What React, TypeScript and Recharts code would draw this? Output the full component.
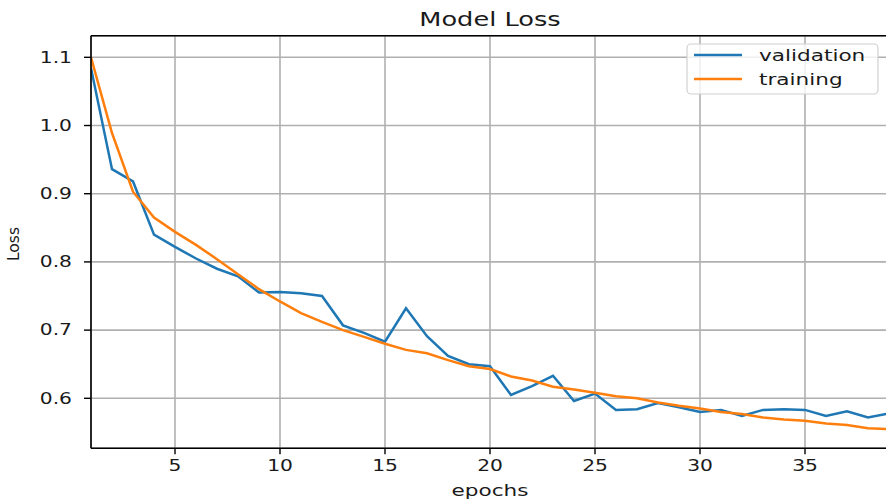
import React from 'react';
import { LineChart, Line, XAxis, YAxis, CartesianGrid, ReferenceLine } from 'recharts';

// epochs on the x axis
const epochs = [
  1, 2, 3, 4, 5, 6, 7, 8, 9, 10, 11, 12, 13, 14, 15, 16, 17, 18, 19, 20,
  21, 22, 23, 24, 25, 26, 27, 28, 29, 30, 31, 32, 33, 34, 35, 36, 37, 38, 39,
];

const validationLoss = [
  1.084, 0.936, 0.918, 0.840, 0.822, 0.805, 0.790, 0.779, 0.755, 0.756,
  0.754, 0.750, 0.707, 0.696, 0.683, 0.732, 0.691, 0.662, 0.650, 0.647,
  0.605, 0.618, 0.633, 0.596, 0.607, 0.583, 0.584, 0.593, 0.587, 0.580,
  0.583, 0.574, 0.583, 0.584, 0.583, 0.574, 0.581, 0.572, 0.578,
];

const trainingLoss = [
  1.100, 0.989, 0.903, 0.865, 0.844, 0.825, 0.804, 0.782, 0.760, 0.742,
  0.725, 0.712, 0.700, 0.690, 0.680, 0.671, 0.666, 0.656, 0.647, 0.643,
  0.632, 0.626, 0.617, 0.613, 0.608, 0.603, 0.600, 0.594, 0.589, 0.585,
  0.580, 0.577, 0.572, 0.569, 0.567, 0.563, 0.561, 0.556, 0.555,
];

const xTicks = [5, 10, 15, 20, 25, 30, 35];
const yTicks = [0.6, 0.7, 0.8, 0.9, 1.0, 1.1];
const X_DOMAIN: [number, number] = [1, 39];
const Y_DOMAIN: [number, number] = [0.5267, 1.1317];

const series = [
  { key: 'validation', label: 'validation', color: '#1f77b4' },
  { key: 'training', label: 'training', color: '#ff7f0e' },
];

const FONT = '"DejaVu Sans", sans-serif';
const TEXT = '#1a1a1a';
// the picture's text is stretched sideways
const SX = 1.35;

const data = epochs.map((e, i) => ({
  epoch: e,
  validation: validationLoss[i],
  training: trainingLoss[i],
}));

const XTick = ({ x, y, payload }: any) => (
  <text
    transform={`translate(${x},${y}) scale(${SX},1)`}
    textAnchor="middle"
    dy="0.71em"
    fontSize={15}
    fontFamily={FONT}
    fill={TEXT}
  >
    {payload.value}
  </text>
);

const YTick = ({ x, y, payload }: any) => (
  <text
    transform={`translate(${x},${y}) scale(${SX},1)`}
    textAnchor="end"
    dy="0.355em"
    fontSize={15}
    fontFamily={FONT}
    fill={TEXT}
  >
    {Number(payload.value).toFixed(1)}
  </text>
);

// title, axis labels
const Labels = () => (
  <g fontFamily={FONT} fill={TEXT}>
    <text transform={`translate(490,26) scale(${SX},1)`} textAnchor="middle" fontSize={19}>
      Model Loss
    </text>
    <text transform={`translate(490,496) scale(${SX},1)`} textAnchor="middle" fontSize={16}>
      epochs
    </text>
    <text transform="translate(19,244) rotate(-90)" textAnchor="middle" fontSize={15.5}>
      Loss
    </text>
  </g>
);

const LegendBox = () => (
  <g fontFamily={FONT}>
    <rect x={687} y={44} width={191} height={50} rx={4} fill="rgba(255,255,255,0.8)" stroke="#d0d0d0" strokeWidth={1.2} />
    {series.map((s, i) => {
      const cy = 55 + i * 24;
      return (
        <g key={s.key}>
          <line x1={694} x2={742} y1={cy} y2={cy} stroke={s.color} strokeWidth={2.5} />
          <text
            transform={`translate(759,${cy}) scale(${SX},1)`}
            dy="0.35em"
            fontSize={16}
            fill={TEXT}
          >
            {s.label}
          </text>
        </g>
      );
    })}
  </g>
);

export default function App() {
  return (
    <div style={{ position: 'fixed', left: 0, top: 0, width: 886, height: 501, overflow: 'hidden', background: '#fff' }}>
      <LineChart
        width={900}
        height={501}
        data={data}
        margin={{ top: 35.7, right: 11, bottom: 22.7, left: 31 }}
      >
        <CartesianGrid stroke="#b0b0b0" strokeWidth={1.6} />
        <XAxis
          dataKey="epoch"
          type="number"
          domain={X_DOMAIN}
          ticks={xTicks}
          allowDataOverflow
          height={30}
          tick={<XTick />}
          tickSize={6}
          tickMargin={6}
          axisLine={{ stroke: '#000', strokeWidth: 1.6 }}
          tickLine={{ stroke: '#000', strokeWidth: 1.4 }}
        />
        <YAxis
          type="number"
          domain={Y_DOMAIN}
          ticks={yTicks}
          allowDataOverflow
          width={60}
          tick={<YTick />}
          tickSize={7}
          tickMargin={12}
          axisLine={{ stroke: '#000', strokeWidth: 1.6 }}
          tickLine={{ stroke: '#000', strokeWidth: 1.4 }}
        />
        <ReferenceLine y={Y_DOMAIN[1]} stroke="#000" strokeWidth={1.6} ifOverflow="visible" />
        {series.map((s) => (
          <Line
            key={s.key}
            dataKey={s.key}
            type="linear"
            stroke={s.color}
            strokeWidth={2.5}
            dot={false}
            activeDot={false}
            isAnimationActive={false}
          />
        ))}
        <Labels />
        <LegendBox />
      </LineChart>
    </div>
  );
}
